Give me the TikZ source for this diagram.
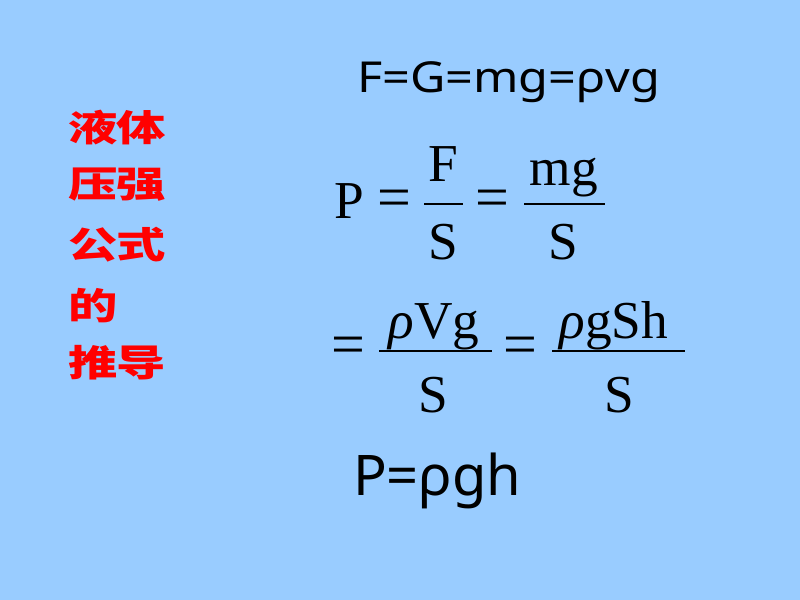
\documentclass[tikz,border=0pt]{standalone}
\usepackage{fontspec}
\setmainfont{Liberation Serif}
\newfontfamily\latsans{Noto Sans}
\newfontfamily\cjk{Noto Sans CJK SC Black}
\definecolor{bgblue}{HTML}{99CCFF}
\definecolor{hanred}{HTML}{FF0000}
\begin{document}
\begin{tikzpicture}[x=0.75pt,y=-0.75pt,
  every node/.style={inner sep=0pt,outer sep=0pt},
  han/.style={font=\cjk\fontsize{37}{37}\selectfont,text=hanred,yscale=0.74,anchor=center},
  ser/.style={font=\fontsize{40}{40}\selectfont},
  eq/.style={font=\fontsize{45}{45}\selectfont,anchor=center},
  sans1/.style={font=\latsans\fontsize{32}{32}\selectfont,xscale=1.14},
  sans2/.style={font=\latsans\fontsize{42}{42}\selectfont},
  fracline/.style={line width=1.6pt}]
\fill[bgblue] (0,0) rectangle (800,600);
\useasboundingbox (0,0) rectangle (800,600);
% Chinese title
\node[han] (c1) at (93,128) {液};
\node[han] (c2) at (141,128) {体};
\node[han] (c3) at (93,185) {压};
\node[han] (c4) at (141,185) {强};
\node[han] (c5) at (93,245) {公};
\node[han] (c6) at (141,245) {式};
\node[han] (c7) at (93,306) {的};
\node[han] (c8) at (93,363) {推};
\node[han] (c9) at (141,363) {导};
% line 1
\node[sans1,anchor=base west] (l1) at (357,92) {F=G=mg=ρvg};
% row 1
\node[ser,anchor=base west] (p1) at (334,218) {P};
\node[eq] (e1) at (394,204) {=};
\coordinate (f1a) at (424,204); \coordinate (f1b) at (463,204);
\draw[fracline] (f1a) -- (f1b);
\node[ser,anchor=base] (n1) at (443,181) {F};
\node[ser,anchor=base] (d1) at (443,259) {S};
\node[eq] (e2) at (492,204) {=};
\coordinate (f2a) at (524,204); \coordinate (f2b) at (605,204);
\draw[fracline] (f2a) -- (f2b);
\node[ser,anchor=base] (n2) at (564,185) {mg};
\node[ser,anchor=base] (d2) at (563,259) {S};
% row 2
\node[eq] (e3) at (348,351) {=};
\coordinate (f3a) at (379,351); \coordinate (f3b) at (492,351);
\draw[fracline] (f3a) -- (f3b);
\node[ser,anchor=base] (n3) at (434,338) {\textit{ρ}Vg};
\node[ser,anchor=base] (d3) at (433,412) {S};
\node[eq] (e4) at (520,351) {=};
\coordinate (f4a) at (552,351); \coordinate (f4b) at (685,351);
\draw[fracline] (f4a) -- (f4b);
\node[ser,anchor=base] (n4) at (614,338) {\textit{ρ}gSh};
\node[ser,anchor=base] (d4) at (619,412) {S};
% line 3
\node[sans2,anchor=base west] (l3) at (353,495) {P=ρgh};
\end{tikzpicture}
\end{document}
